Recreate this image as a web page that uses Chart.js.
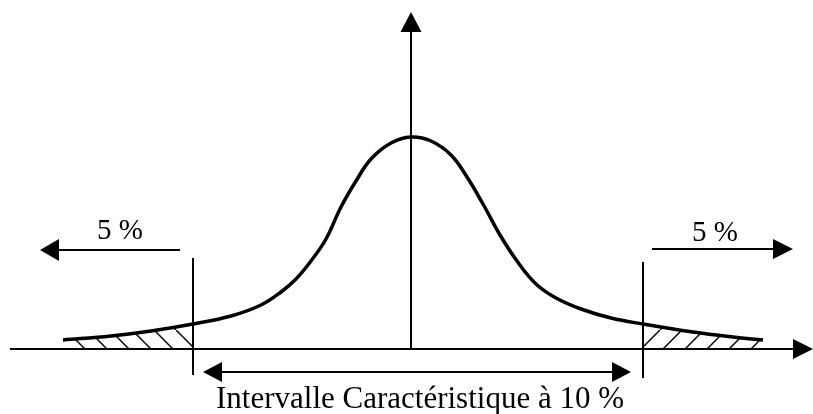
<!DOCTYPE html>
<html>
<head>
<meta charset="utf-8">
<script src="https://cdn.jsdelivr.net/npm/chart.js@4"></script>
<style>
  body { margin: 0; background: #fff; }
  #curve { display: block; }
</style>
</head>
<body>
<canvas id="curve" width="813" height="414"></canvas>
<script>
// density curve, sampled (x offset from the mean, height)
const xs      = [-348, -300, -260, -218, -180, -150, -130, -115, -100, -85, -70, -55, -40, -20, 0, 20, 40, 56, 72, 89, 106, 125, 145, 170, 200, 232, 282, 322, 352];
const heights = [   9,   13,   18,   25,   33,   44,   57,   70,   88, 110, 142, 168, 190, 206, 212, 208, 194, 172, 145, 114, 88, 65, 51, 40, 31, 25, 17, 12, 9];

// limits of the interval and the labels
const lowerBound = -218;
const upperBound = 232;
const tailLabel = '5 %';
const intervalLabel = 'Intervalle Caractéristique à 10 %';

const curvePts = xs.map((x, i) => ({ x: x, y: heights[i] }));
const leftTail = curvePts.filter(p => p.x <= lowerBound);
const rightTail = curvePts.filter(p => p.x >= upperBound);

function hatch(forward) {
    const c = document.createElement('canvas');
    c.width = 22; c.height = 22;
    const g = c.getContext('2d');
    g.strokeStyle = '#000';
    g.lineWidth = 1.5;
    g.beginPath();
    if (forward) {
        g.moveTo(-2, 24); g.lineTo(24, -2);
    } else {
        g.moveTo(-2, -2); g.lineTo(24, 24);
    }
    g.stroke();
    return g.createPattern(c, 'repeat');
}

function arrow(ctx, x1, y1, x2, y2, len, half) {
    const a = Math.atan2(y2 - y1, x2 - x1);
    const bx = x2 - Math.cos(a) * len, by = y2 - Math.sin(a) * len;
    ctx.beginPath();
    ctx.moveTo(x1, y1);
    ctx.lineTo(bx, by);
    ctx.stroke();
    ctx.beginPath();
    ctx.moveTo(x2, y2);
    ctx.lineTo(bx - Math.sin(a) * half, by + Math.cos(a) * half);
    ctx.lineTo(bx + Math.sin(a) * half, by - Math.cos(a) * half);
    ctx.closePath();
    ctx.fill();
}

const axesAndNotes = {
    id: 'axesAndNotes',
    afterDatasetsDraw(chart) {
        const ctx = chart.ctx;
        const sx = chart.scales.x, sy = chart.scales.y;
        const X = v => sx.getPixelForValue(v);
        const Y = v => sy.getPixelForValue(v);
        ctx.save();
        ctx.strokeStyle = '#000';
        ctx.fillStyle = '#000';
        ctx.lineWidth = 2;

        // axes
        arrow(ctx, X(-401), Y(0), X(402), Y(0), 20, 10);
        arrow(ctx, X(0), Y(0), X(0), Y(337), 20, 10.5);

        // interval limits
        ctx.beginPath();
        ctx.moveTo(X(lowerBound), Y(91)); ctx.lineTo(X(lowerBound), Y(-26));
        ctx.moveTo(X(upperBound), Y(87)); ctx.lineTo(X(upperBound), Y(-29));
        ctx.stroke();

        // tail arrows
        arrow(ctx, X(-231), Y(99), X(-371), Y(99), 19, 11);
        arrow(ctx, X(241), Y(100), X(382), Y(100), 20, 10);

        // interval double arrow
        const ya = Y(-23);
        arrow(ctx, X(6), ya, X(-208), ya, 19, 10);
        arrow(ctx, X(6), ya, X(220), ya, 19, 10);

        ctx.textAlign = 'center';
        ctx.textBaseline = 'alphabetic';
        ctx.font = '29px "Liberation Serif", "Times New Roman", serif';
        ctx.fillText(tailLabel, X(-291), Y(110));
        ctx.fillText(tailLabel, X(304), Y(108));
        ctx.font = '31px "Liberation Serif", "Times New Roman", serif';
        ctx.fillText(intervalLabel, X(9), Y(-59));
        ctx.restore();
    }
};

new Chart(document.getElementById('curve').getContext('2d'), {
    type: 'line',
    data: {
        datasets: [
            { data: curvePts, borderColor: '#000', borderWidth: 3.5, pointRadius: 0, fill: false, tension: 0.4, order: 0 },
            { data: leftTail, borderWidth: 0, pointRadius: 0, fill: 'origin', backgroundColor: hatch(false), tension: 0.4, order: 1 },
            { data: rightTail, borderWidth: 0, pointRadius: 0, fill: 'origin', backgroundColor: hatch(true), tension: 0.4, order: 1 }
        ]
    },
    options: {
        responsive: false,
        animation: false,
        layout: { padding: 0 },
        plugins: { legend: { display: false }, tooltip: { enabled: false } },
        scales: {
            x: { type: 'linear', min: -411, max: 402, display: false },
            y: { min: -65, max: 349, display: false }
        }
    },
    plugins: [axesAndNotes]
});
</script>
</body>
</html>
